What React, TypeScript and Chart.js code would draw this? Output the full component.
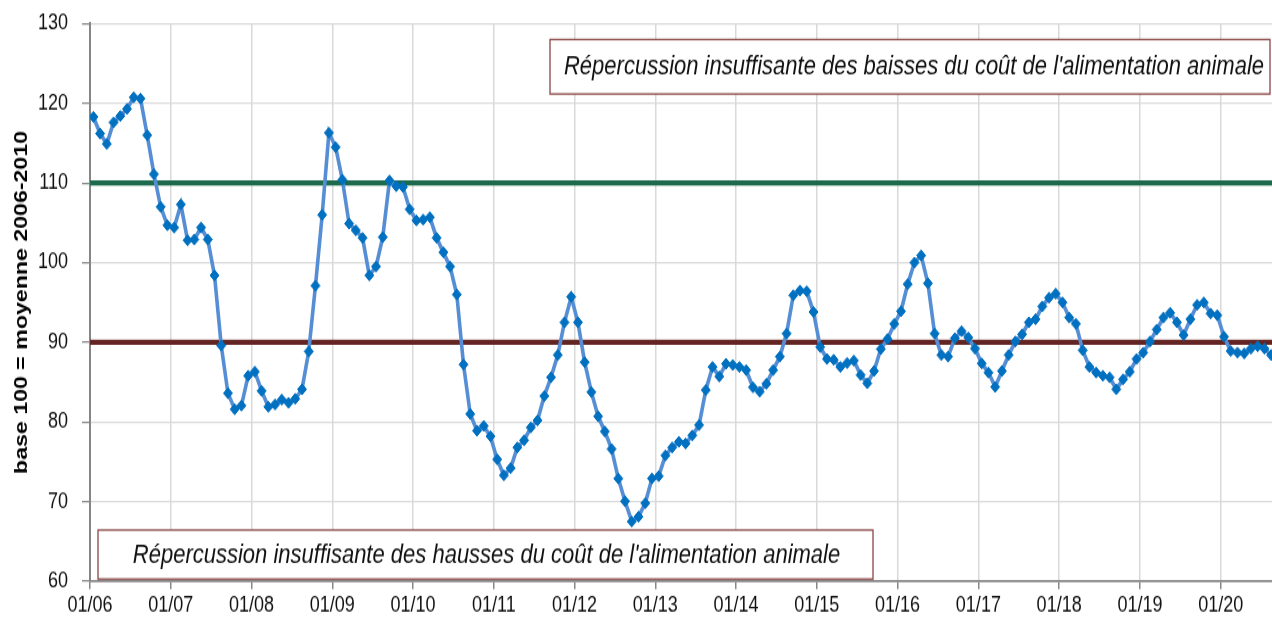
import React, { useEffect, useRef } from "react";
import { Chart, registerables } from "chart.js";

Chart.register(...registerables);

// Monthly index values (base 100 = moyenne 2006-2010), Jan 2006 .. Aug 2020
const v2006 = [118.3, 116.2, 114.9, 117.6, 118.4, 119.3, 120.75, 120.6, 116.0, 111.1, 107.0, 104.7];
const v2007 = [104.4, 107.3, 102.8, 102.9, 104.4, 102.9, 98.4, 89.6, 83.6, 81.6, 82.05, 85.8];
const v2008 = [86.3, 83.9, 81.9, 82.2, 82.8, 82.4, 82.9, 84.1, 88.85, 97.1, 106.0, 116.3];
const v2009 = [114.5, 110.4, 104.9, 104.05, 103.1, 98.4, 99.5, 103.2, 110.3, 109.6, 109.5, 106.7];
const v2010 = [105.3, 105.4, 105.7, 103.1, 101.3, 99.5, 96.0, 87.2, 81.0, 78.9, 79.5, 78.2];
const v2011 = [75.3, 73.3, 74.2, 76.8, 77.7, 79.3, 80.2, 83.25, 85.6, 88.4, 92.5, 95.7];
const v2012 = [92.5, 87.5, 83.75, 80.7, 78.8, 76.6, 72.9, 70.05, 67.5, 68.1, 69.8, 72.9];
const v2013 = [73.2, 75.8, 76.8, 77.5, 77.3, 78.3, 79.6, 84.0, 86.9, 85.7, 87.3, 87.15];
const v2014 = [86.9, 86.5, 84.35, 83.8, 84.8, 86.5, 88.2, 91.1, 95.9, 96.5, 96.4, 93.8];
const v2015 = [89.4, 87.9, 87.8, 86.9, 87.4, 87.7, 85.9, 84.85, 86.4, 89.15, 90.4, 92.3];
const v2016 = [93.9, 97.3, 100.0, 100.9, 97.4, 91.1, 88.4, 88.2, 90.5, 91.4, 90.6, 89.2];
const v2017 = [87.35, 86.2, 84.4, 86.4, 88.4, 90.1, 91.0, 92.5, 92.9, 94.5, 95.6, 96.1];
const v2018 = [95.0, 93.1, 92.3, 89.0, 86.9, 86.2, 85.8, 85.6, 84.1, 85.35, 86.3, 87.9];
const v2019 = [88.7, 90.1, 91.6, 93.1, 93.7, 92.5, 90.9, 92.9, 94.7, 95.0, 93.6, 93.4];
const v2020 = [90.7, 88.9, 88.7, 88.6, 89.2, 89.5, 89.2, 88.4];

const yearLabels = [
  "01/06", "01/07", "01/08", "01/09", "01/10", "01/11", "01/12", "01/13",
  "01/14", "01/15", "01/16", "01/17", "01/18", "01/19", "01/20",
];
const totalMonths = 176;
const upperThreshold = 110;
const lowerThreshold = 90;
const yTitle = "base 100 = moyenne 2006-2010";
const topNote = "Répercussion insuffisante des baisses du coût de l'alimentation animale";
const bottomNote = "Répercussion insuffisante des hausses du coût de l'alimentation animale";

const FONT = "'Liberation Sans', Arial, Helvetica, sans-serif";

// The reference is vertically stretched: draw at a logical height and stretch with CSS.
const CANVAS_W = 1280;
const CANVAS_H = 508;
const DISPLAY_H = 619;

export default function App() {
  const canvasRef = useRef<HTMLCanvasElement | null>(null);

  useEffect(() => {
    const canvas = canvasRef.current;
    if (!canvas) return;
    const values = [
      ...v2006, ...v2007, ...v2008, ...v2009, ...v2010, ...v2011, ...v2012, ...v2013,
      ...v2014, ...v2015, ...v2016, ...v2017, ...v2018, ...v2019, ...v2020,
    ];

    const notesPlugin = {
      id: "notes",
      afterDraw(chart: any) {
        const { ctx } = chart;
        const drawBox = (x1: number, y1: number, x2: number, y2: number, text: string, dx: number) => {
          ctx.save();
          ctx.fillStyle = "#ffffff";
          ctx.fillRect(x1, y1, x2 - x1, y2 - y1);
          ctx.strokeStyle = "#8a4646";
          ctx.lineWidth = 1.3;
          ctx.strokeRect(x1, y1, x2 - x1, y2 - y1);
          ctx.fillStyle = "#111111";
          ctx.font = `italic 22px ${FONT}`;
          ctx.textAlign = "center";
          ctx.textBaseline = "middle";
          ctx.fillText(text, (x1 + x2) / 2 + dx, (y1 + y2) / 2 + 0.5);
          ctx.restore();
        };
        drawBox(550, 32.4, 1270, 77.1, topNote, 4);
        drawBox(98, 435, 873, 475.2, bottomNote, 1);
      },
    };

    const chart = new Chart(canvas, {
      type: "line",
      data: {
        datasets: [
          {
            label: "Indice",
            data: values.map((v, i) => ({ x: i + 0.5, y: v })),
            borderColor: "#558ED5",
            borderWidth: 3.6,
            pointStyle: "rectRot",
            pointRadius: 4.5,
            pointBackgroundColor: "#0070C0",
            pointBorderColor: "#0070C0",
            pointBorderWidth: 1,
            tension: 0,
            order: 0,
          },
          {
            label: "Seuil haut",
            data: [{ x: 0, y: upperThreshold }, { x: totalMonths, y: upperThreshold }],
            borderColor: "#1E6A4D",
            borderWidth: 4.2,
            pointRadius: 0,
            order: 1,
          },
          {
            label: "Seuil bas",
            data: [{ x: 0, y: lowerThreshold }, { x: totalMonths, y: lowerThreshold }],
            borderColor: "#632523",
            borderWidth: 4.2,
            pointRadius: 0,
            order: 1,
          },
        ],
      },
      options: {
        responsive: false,
        animation: false,
        devicePixelRatio: 1,
        layout: { padding: { top: 19.4, right: 4, left: 0, bottom: 0 } },
        plugins: {
          legend: { display: false },
          tooltip: { enabled: false },
        },
        scales: {
          x: {
            type: "linear",
            min: 0,
            max: totalMonths,
            afterBuildTicks: (scale: any) => {
              scale.ticks = yearLabels.map((_, k) => ({ value: k * 12 }));
            },
            afterFit: (scale: any) => {
              scale.height = 31;
            },
            ticks: {
              autoSkip: false,
              maxRotation: 0,
              padding: 3,
              color: "#111111",
              font: { family: FONT, size: 18 },
              callback: (_v: any, index: number) => yearLabels[index],
            },
            grid: {
              color: "#D9D9D9",
              lineWidth: 1.5,
              tickLength: 6.5,
              tickColor: "#868686",
              tickWidth: 1.5,
            },
            border: { color: "#868686", width: 1.7 },
          },
          y: {
            min: 60,
            max: 130,
            afterFit: (scale: any) => {
              scale.width = 90;
              scale.paddingTop = 0;
              scale.paddingBottom = 0;
            },
            ticks: {
              stepSize: 10,
              padding: 14,
              color: "#111111",
              font: { family: FONT, size: 18 },
            },
            grid: {
              color: "#D9D9D9",
              lineWidth: 1.25,
              tickLength: 8,
              tickColor: "#868686",
              tickWidth: 1.3,
            },
            border: { color: "#868686", width: 2 },
            title: {
              display: true,
              text: yTitle,
              color: "#000000",
              font: { family: FONT, size: 19, weight: "bold" },
              padding: { top: 10.5, bottom: 0 },
            },
          },
        },
      },
      plugins: [notesPlugin],
    });

    return () => chart.destroy();
  }, []);

  return (
    <div
      style={{
        position: "fixed",
        left: 0,
        top: 0,
        width: 1272,
        height: 619,
        overflow: "hidden",
        background: "#ffffff",
      }}
    >
      <canvas
        ref={canvasRef}
        width={CANVAS_W}
        height={CANVAS_H}
        style={{ display: "block", width: `${CANVAS_W}px`, height: `${DISPLAY_H}px` }}
      />
    </div>
  );
}
